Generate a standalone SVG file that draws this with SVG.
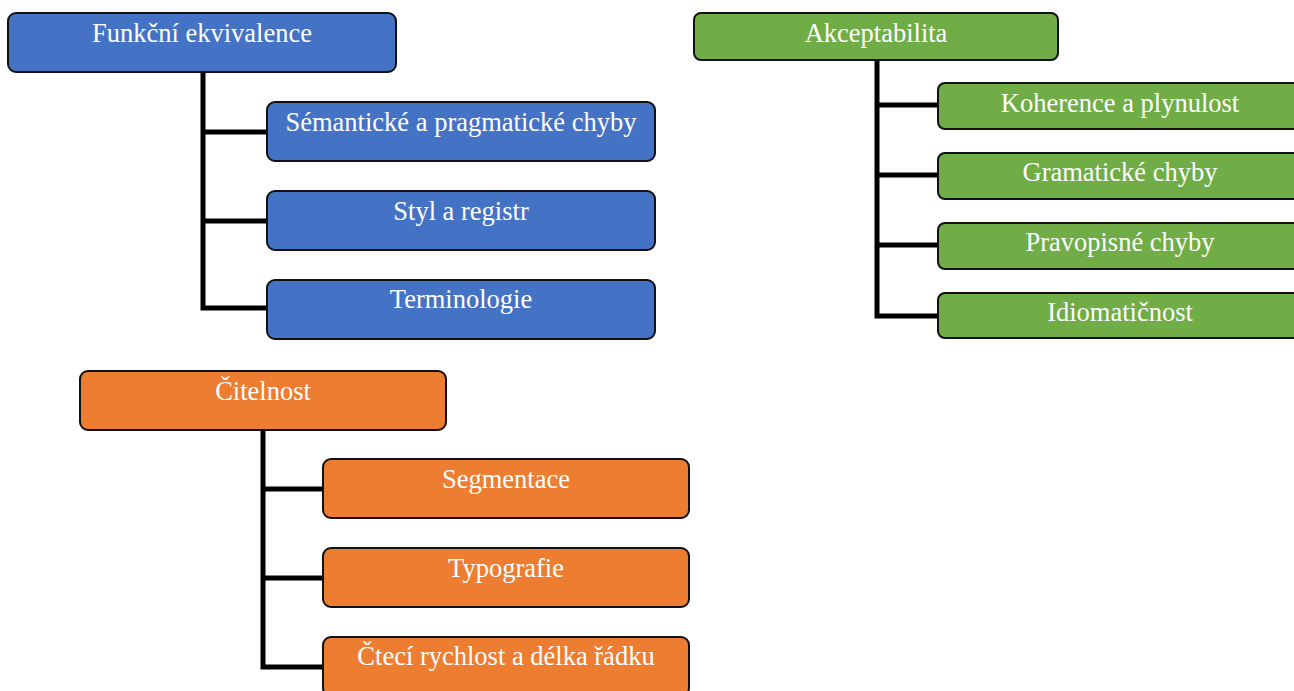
<svg xmlns="http://www.w3.org/2000/svg" width="1294" height="691" viewBox="0 0 1294 691">
<style>
.box{stroke:#111;stroke-width:2}
.blue{fill:#4472C4}
.green{fill:#70AD47}
.orange{fill:#ED7D31}
.lbl{font-family:"Liberation Serif","Times New Roman",serif;font-size:26.5px;fill:#ffffff;text-anchor:middle}
.conn{stroke:#000;stroke-width:5}
</style>
<rect width="1294" height="691" fill="#ffffff"/>
<g id="connectors" fill="none">
<path class="conn" d="M203,72 V308 H267 M203,132 H267 M203,221 H267"/>
<path class="conn" d="M877,60 V316 H938 M877,105 H938 M877,175 H938 M877,245 H938"/>
<path class="conn" d="M263,430 V667 H323 M263,489 H323 M263,578 H323"/>
</g>
<g id="n-funkcni"><rect class="box blue" x="8" y="13" width="388" height="59" rx="8"/><text class="lbl" x="202" y="42">Funkční ekvivalence</text></g>
<g id="n-semanticke"><rect class="box blue" x="267" y="102" width="388" height="59" rx="8"/><text class="lbl" x="461" y="131">Sémantické a pragmatické chyby</text></g>
<g id="n-styl"><rect class="box blue" x="267" y="191" width="388" height="59" rx="8"/><text class="lbl" x="461" y="220">Styl a registr</text></g>
<g id="n-terminologie"><rect class="box blue" x="267" y="280" width="388" height="59" rx="8"/><text class="lbl" x="461" y="308">Terminologie</text></g>
<g id="n-akceptabilita"><rect class="box green" x="694" y="13" width="364" height="47" rx="7"/><text class="lbl" x="876" y="42">Akceptabilita</text></g>
<g id="n-koherence"><rect class="box green" x="938" y="83" width="364" height="46" rx="7"/><text class="lbl" x="1120" y="112">Koherence a plynulost</text></g>
<g id="n-gramaticke"><rect class="box green" x="938" y="153" width="364" height="46" rx="7"/><text class="lbl" x="1120" y="181">Gramatické chyby</text></g>
<g id="n-pravopisne"><rect class="box green" x="938" y="223" width="364" height="46" rx="7"/><text class="lbl" x="1120" y="251">Pravopisné chyby</text></g>
<g id="n-idiomaticnost"><rect class="box green" x="938" y="293" width="364" height="45" rx="7"/><text class="lbl" x="1120" y="321">Idiomatičnost</text></g>
<g id="n-citelnost"><rect class="box orange" x="80" y="371" width="366" height="59" rx="8"/><text class="lbl" x="263" y="400">Čitelnost</text></g>
<g id="n-segmentace"><rect class="box orange" x="323" y="459" width="366" height="59" rx="8"/><text class="lbl" x="506" y="488">Segmentace</text></g>
<g id="n-typografie"><rect class="box orange" x="323" y="548" width="366" height="59" rx="8"/><text class="lbl" x="506" y="577">Typografie</text></g>
<g id="n-cteci"><rect class="box orange" x="323" y="637" width="366" height="59" rx="8"/><text class="lbl" x="506" y="665">Čtecí rychlost a délka řádku</text></g>
</svg>
